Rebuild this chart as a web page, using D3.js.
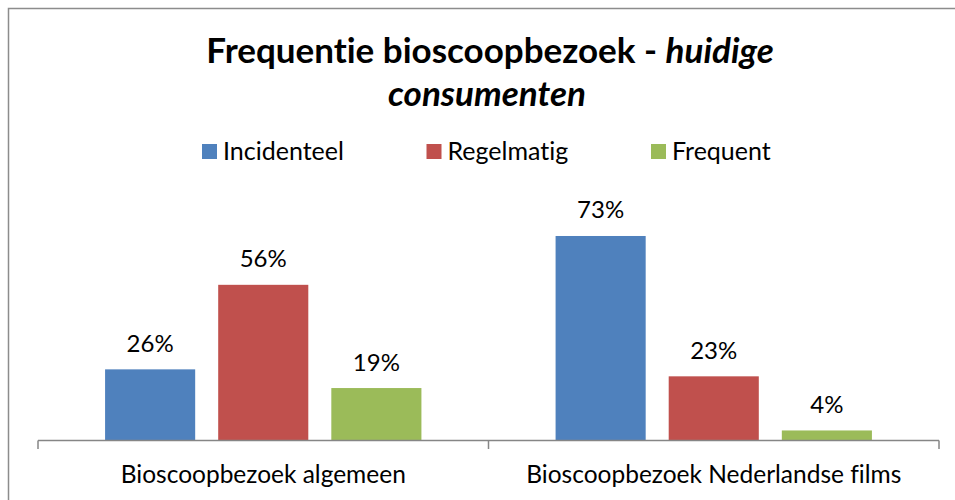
<!DOCTYPE html>
<html>
<head>
<meta charset="utf-8">
<script src="https://cdn.jsdelivr.net/npm/d3@7"></script>
<style>
  body { margin: 0; background: #fff; }
  svg { display: block; font-variant-ligatures: none; font-feature-settings: "liga" 0, "clig" 0; }
</style>
</head>
<body>
<main></main>
<script>
const categories = ['Bioscoopbezoek algemeen', 'Bioscoopbezoek Nederlandse films'];
const series = ['Incidenteel', 'Regelmatig', 'Frequent'];
const colors = ['#4F81BD', '#C0504D', '#9BBB59'];
// percentages per category, in series order
const valuesAlgemeen = [25.5, 55.8, 18.8];
const valuesNederlands = [73.3, 23.0, 3.6];

const width = 955;
const height = 500;
const font = "Lato, 'Noto Sans', sans-serif";

const rows = categories.map((c, i) => ({
  category: c,
  values: [valuesAlgemeen, valuesNederlands][i].map((v, j) => ({ key: series[j], value: v }))
}));

const svg = d3.select('main')
  .append('svg')
  .attr('width', width)
  .attr('height', height);

// Chart border (runs off the right and bottom edges)
svg.append('rect')
  .attr('x', 8.5)
  .attr('y', 8.5)
  .attr('width', width + 20)
  .attr('height', height + 20)
  .style('fill', 'none')
  .style('stroke', '#8c8c8c')
  .style('stroke-width', 1.5)

// Title
const title = svg.append('text')
  .attr('text-anchor', 'middle')
  .style('font-family', font)
  .style('font-size', '35px')
  .style('font-weight', 700)
  .style('fill', '#000')

title.append('tspan')
  .attr('x', 490)
  .attr('y', 63)
  .text('Frequentie bioscoopbezoek - ')
  .append('tspan')
  .style('font-style', 'italic')
  .text('huidige')

title.append('tspan')
  .attr('x', 487)
  .attr('y', 106)
  .style('font-style', 'italic')
  .text('consumenten')

// Scales
const plotLeft = 38;
const plotRight = 939;
const baseline = 440.5;

const x0 = d3.scaleBand()
  .domain(categories)
  .range([plotLeft, plotRight])

const x1 = d3.scaleBand()
  .domain(series)
  .range([0, x0.bandwidth()])
  .paddingInner(0.2035)
  .paddingOuter(0.593)

const y = d3.scaleLinear()
  .domain([0, 80])
  .range([baseline, baseline - 223.2])

const color = d3.scaleOrdinal()
  .domain(series)
  .range(colors)

// Legend
const legendX = d3.scalePoint()
  .domain(series)
  .range([202, 651])

const legend = svg.append('g')
  .selectAll('g')
  .data(series)
  .enter()
  .append('g')
  .attr('transform', d => `translate(${legendX(d)}, 144)`)

legend.append('rect')
  .attr('width', 15)
  .attr('height', 15)
  .style('fill', d => color(d))

legend.append('text')
  .attr('x', 21)
  .attr('y', 15.5)
  .text(d => d)
  .style('font-family', font)
  .style('font-size', '25px')
  .style('fill', '#000')

// Bars
const groups = svg.append('g')
  .selectAll('g')
  .data(rows)
  .enter()
  .append('g')
  .attr('transform', d => `translate(${x0(d.category)}, 0)`)

groups.selectAll('rect')
  .data(d => d.values)
  .enter()
  .append('rect')
  .attr('x', d => x1(d.key))
  .attr('y', d => y(d.value))
  .attr('width', x1.bandwidth())
  .attr('height', d => y(0) - y(d.value))
  .style('fill', d => color(d.key))

groups.selectAll('.label')
  .data(d => d.values)
  .enter()
  .append('text')
  .attr('class', 'label')
  .attr('x', d => x1(d.key) + x1.bandwidth() / 2)
  .attr('y', d => y(d.value) - 17.5)
  .attr('text-anchor', 'middle')
  .text(d => `${Math.round(d.value)}%`)
  .style('font-family', font)
  .style('font-size', '24px')
  .style('fill', '#000')

// x-axis
const xAxis = d3.axisBottom(x0)
  .tickSize(0)
  .tickPadding(25)

const axis = svg.append('g')
  .attr('transform', `translate(0, ${baseline})`)
  .call(xAxis)

axis.select('.domain').remove()
axis.selectAll('text')
  .style('font-family', font)
  .style('font-size', '24.5px')
  .style('fill', '#000')

axis.append('line')
  .attr('x1', plotLeft)
  .attr('x2', plotRight)
  .style('stroke', '#868686')
  .style('stroke-width', 1.5)

axis.selectAll('.sep')
  .data(categories.map(c => x0(c)).concat(plotRight))
  .enter()
  .append('line')
  .attr('class', 'sep')
  .attr('x1', d => d)
  .attr('x2', d => d)
  .attr('y1', 0)
  .attr('y2', 8.5)
  .style('stroke', '#868686')
  .style('stroke-width', 1.5)
</script>
</body>
</html>
